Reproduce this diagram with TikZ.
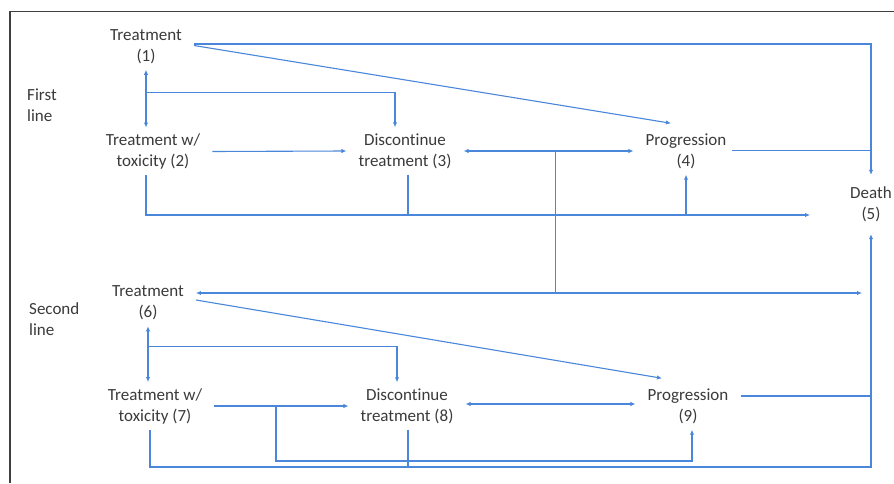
\documentclass[tikz,border=0pt]{standalone}
\usepackage{fontspec}
\setmainfont{Carlito}[Ligatures={NoCommon,NoContextual}]
\usepackage{xcolor}
\usepackage{tikz}
\usetikzlibrary{positioning,arrows.meta,calc}
\definecolor{LinkBlue}{HTML}{4A86DA}
\definecolor{TextGray}{HTML}{3A3A3A}
\definecolor{FrameGray}{HTML}{404040}
\tikzset{
  state/.style={align=center,text=TextGray,font=\fontsize{17}{21}\selectfont,inner xsep=12pt,inner ysep=6pt},
  side/.style={align=left,text=TextGray,font=\fontsize{17}{21}\selectfont,inner sep=0pt,anchor=west},
  lnk/.style={draw=LinkBlue,line width=1.1pt},
  arr/.style={lnk,-{Latex[length=5pt,width=4.5pt]}},
  darr/.style={lnk,{Latex[length=5pt,width=4.5pt]}-{Latex[length=5pt,width=4.5pt]}},
}

\begin{document}
\begin{tikzpicture}[x=1pt,y=1pt]
\useasboundingbox (0,0) rectangle (894,483);
\draw[FrameGray,line width=1.5pt] (10,0) -- (10,471.5) -- (894,471.5);

\node[side] (fl) at (27,378) {First\\line};
\node[side] (sl) at (29,164) {Second\\line};

\node[state] (t1) at (146,436.5) {Treatment\\(1)};
\node[state] (tox1) at (153,331.5) {Treatment w/\\toxicity (2)};
\node[state] (dis1) at (405,332) {Discontinue\\treatment (3)};
\node[state] (prog1) at (686,332) {Progression\\(4)};
\node[state, inner xsep=0pt, minimum height=59pt] (death) at (871,278.5) {Death\\(5)};
\node[state] (t2) at (148,180) {Treatment\\(6)};
\node[state] (tox2) at (155,77) {Treatment w/\\toxicity (7)};
\node[state] (dis2) at (407,77) {Discontinue\\treatment (8)};
\node[state] (prog2) at (688,77) {Progression\\(9)};

\coordinate (t2r) at ([yshift=10pt]t2.east);
\coordinate (j1) at ($(t1.south)!0.39!(t1.south |- tox1.north)$);
\coordinate (j2) at ($(dis1.east)!0.54!(prog1.west)$);
\coordinate (j3) at (j2 |- t2r);
\coordinate (j4) at ($(t2.south)!0.36!(t2.south |- tox2.north)$);
\coordinate (j5) at ($(tox2.east)!0.46!(dis2.west)$);
\coordinate (d1) at (810,268);
\coordinate (d2) at (871,16);
\coordinate (b2) at (692,22);

\draw[arr] ([yshift=2.5pt]t1.east) -- ([yshift=2.5pt]t1.east -| death.north) -- (death.north);
\draw[arr] ([yshift=1pt]t1.east) -- ([xshift=-15pt,yshift=4pt]prog1.north);
\draw[darr] (t1.south) -- (t1.south |- tox1.north);
\draw[arr] (j1) -| ([xshift=-10pt]dis1.north);
\draw[arr] (tox1.east) -- (dis1.west);
\draw[darr] (dis1.east) -- (prog1.west);
\draw[lnk] (j2) -- (j3);
\draw[arr] (j3) -- (t2r);
\draw[arr, shorten >=9pt] (j3) -- (j3 -| death.south);
\draw[lnk] ([xshift=-7pt,yshift=0.5pt]prog1.east) -- ([yshift=0.5pt]prog1.east -| death.north);
\draw[arr] (t1.south |- tox1.south) |- (d1);
\draw[lnk] ([xshift=3pt]dis1.south) -- ([xshift=3pt]dis1.south |- d1);
\draw[arr] (prog1.south |- d1) -- (prog1.south);

\draw[arr] ([yshift=3pt]t2.east) -- ([xshift=-26pt,yshift=4pt]prog2.north);
\draw[darr] (t2.south) -- (t2.south |- tox2.north);
\draw[arr] (j4) -| ([xshift=-10pt]dis2.north);
\draw[arr] (tox2.east) -- (dis2.west);
\draw[arr] (j5) |- (b2) -- (b2 |- prog2.south);
\draw[darr] ([yshift=2pt]dis2.east) -- ([yshift=2pt]prog2.west);
\draw[lnk] ([yshift=10pt]prog2.east) -- ([yshift=10pt]prog2.east -| death.south);
\draw[arr] ([xshift=2pt]t2.south |- tox2.south) |- (d2) -- (death.south);
\draw[lnk] ([xshift=1pt]dis2.south) -- ([xshift=1pt]dis2.south |- d2);
\end{tikzpicture}
\end{document}
